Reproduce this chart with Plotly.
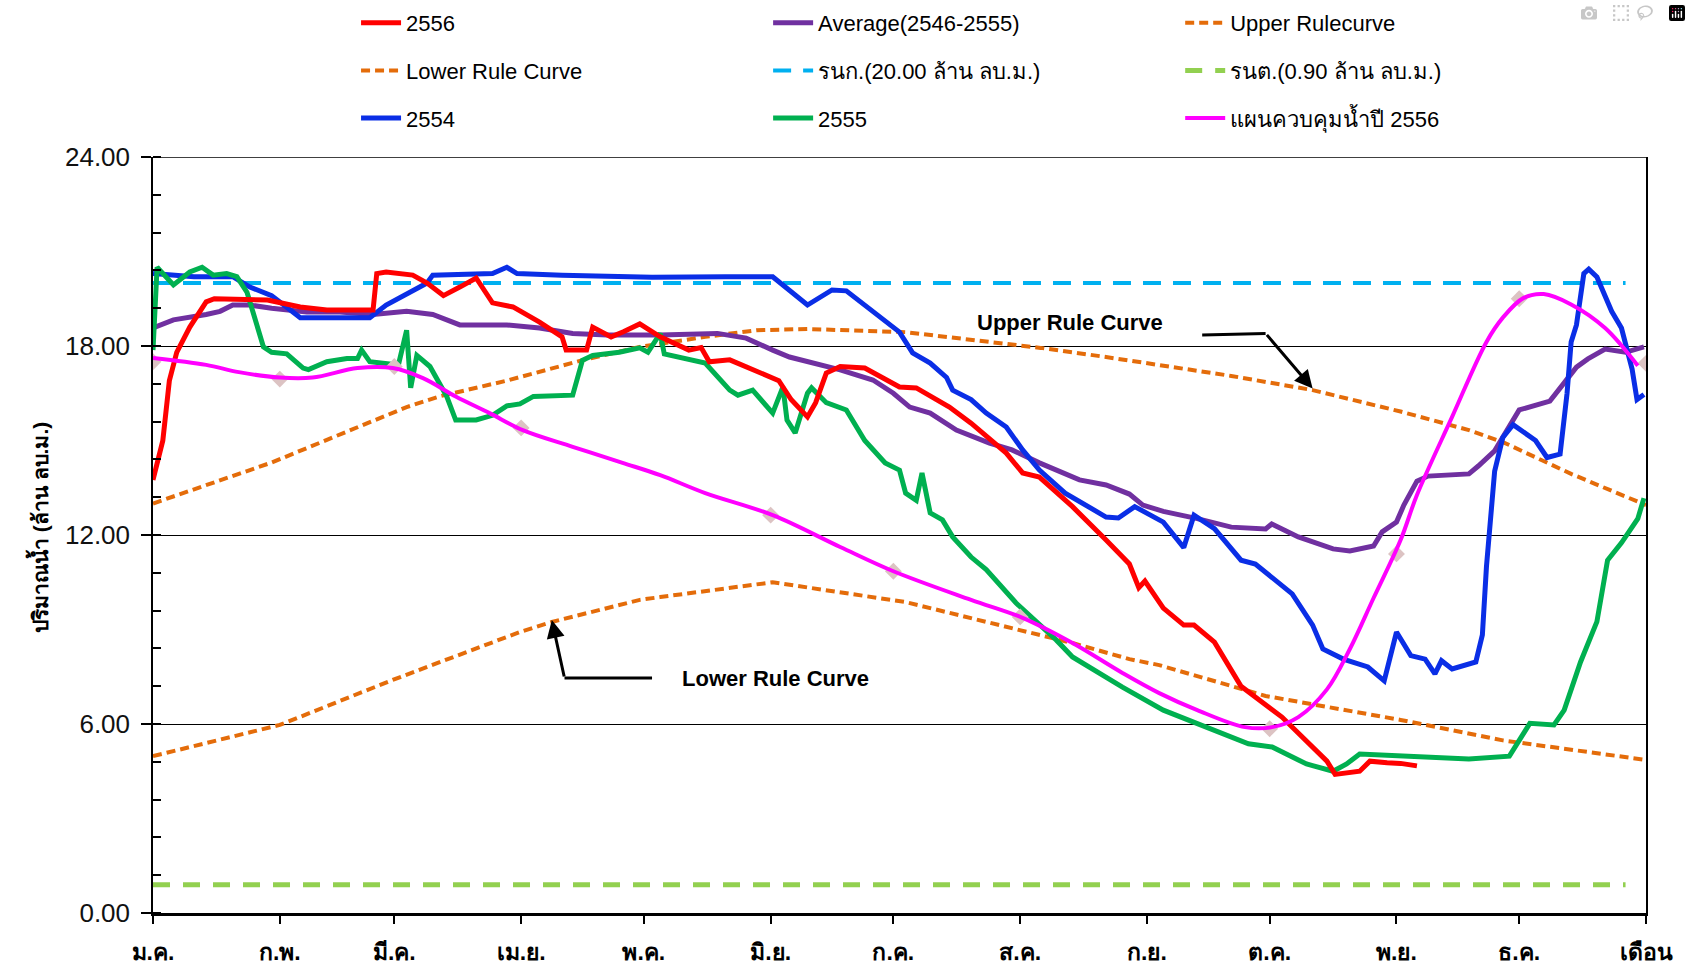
import plotly.graph_objects as go

# ---------------- data ----------------
month_days = [0, 31, 59, 90, 120, 151, 181, 212, 243, 273, 304, 334, 365]
month_labels = ["ม.ค.", "ก.พ.", "มี.ค.", "เม.ย.", "พ.ค.", "มิ.ย.", "ก.ค.", "ส.ค.",
                "ก.ย.", "ต.ค.", "พ.ย.", "ธ.ค.", "เดือน"]
y_ticks = [0, 6, 12, 18, 24]

upper_x = [0, 29, 62, 70, 86.5, 105, 119, 135, 147.5, 160, 184, 200, 217, 233, 246,
           263.6, 283.5, 305, 321.7, 330, 346.7, 365]
upper_y = [13.0, 14.3, 16.06, 16.4, 16.9, 17.55, 17.97, 18.29, 18.5, 18.54, 18.44, 18.19,
           17.94, 17.65, 17.4, 17.05, 16.6, 15.92, 15.33, 14.95, 13.94, 12.95]

lower_x = [0, 31, 58.6, 89.7, 97.5, 119, 124, 151.5, 184, 208.6, 224.8, 238.7, 246, 272,
           305, 330, 365]
lower_y = [4.98, 5.97, 7.4, 8.92, 9.24, 9.94, 10.03, 10.5, 9.87, 9.08, 8.57, 8.06, 7.87,
           6.89, 6.13, 5.48, 4.86]

nwl_x = [0, 360]
nwl_y = [20.0, 20.0]
lwl_x = [0, 360]
lwl_y = [0.9, 0.9]

avg_x = [0, 5, 13, 16.4, 19.5, 23.7, 29, 37.6, 45.7, 53.8, 62, 68.4, 75, 86.5, 94.5, 102.6,
         111, 124, 138, 145, 151.5, 155.6, 168, 176, 181, 185, 190, 196.4, 204.5, 210,
         216.7, 226.5, 233, 238.7, 242, 247, 255.3, 263.6, 272, 273.5, 280, 288.5, 292.6,
         298.4, 300.5, 304, 305.8, 309, 311.7, 321.7, 324, 328, 334, 336.6, 341.5, 345,
         348, 350.8, 355, 360, 364.5]
avg_y = [18.57, 18.83, 19.0, 19.1, 19.3, 19.3, 19.2, 19.08, 19.08, 19.0, 19.1, 19.0, 18.67,
         18.67, 18.57, 18.4, 18.35, 18.35, 18.4, 18.25, 17.87, 17.65, 17.24, 16.92, 16.5,
         16.06, 15.87, 15.33, 14.92, 14.7, 14.29, 13.75, 13.59, 13.3, 12.95, 12.75, 12.52,
         12.25, 12.19, 12.35, 11.94, 11.56, 11.49, 11.65, 12.1, 12.41, 12.95, 13.71, 13.87,
         13.94, 14.19, 14.67, 15.97, 16.08, 16.25, 16.83, 17.33, 17.59, 17.9, 17.8, 17.97]

y2554_x = [0, 10, 19.5, 23.7, 29, 32.7, 36, 45.7, 53, 57, 67, 68.4, 83, 86.5, 89, 100, 122,
           140, 151.5, 160, 166, 169.5, 176, 182.5, 185.7, 190, 194, 195.5, 200, 203.7,
           208.6, 212.6, 216.7, 223, 233, 236, 240, 244, 247, 252, 254.5, 259.5, 263.6, 266,
           269.5, 278.5, 283.5, 286, 291, 297, 301, 304, 307.5, 311, 313.4, 315, 317.6,
           323.4, 325, 326, 328, 330, 332.5, 338, 340.8, 344, 345.7, 346.7, 348, 349.8, 351,
           353, 356.6, 359, 361.6, 362.8, 364.5]
y2554_y = [20.3, 20.2, 20.2, 19.87, 19.6, 19.24, 18.9, 18.9, 18.9, 19.3, 20.0, 20.25, 20.3,
           20.5, 20.3, 20.25, 20.18, 20.2, 20.2, 19.3, 19.78, 19.75, 19.08, 18.44, 17.78,
           17.46, 17.0, 16.6, 16.3, 15.87, 15.43, 14.7, 14.06, 13.33, 12.57, 12.54, 12.9,
           12.6, 12.41, 11.6, 12.63, 12.2, 11.56, 11.2, 11.08, 10.13, 9.14, 8.38, 8.06, 7.81,
           7.37, 8.92, 8.17, 8.06, 7.59, 8.01, 7.75, 7.97, 8.83, 11.0, 14.03, 15.1, 15.5,
           15.0, 14.46, 14.57, 16.5, 18.13, 18.67, 20.3, 20.44, 20.19, 19.1, 18.57, 17.27,
           16.3, 16.46]

y2555_x = [0, 1, 5, 9, 12, 14.7, 18, 20.5, 23, 27, 29, 32.7, 36.7, 38, 42.5, 47.4, 50, 51,
           53, 60, 62, 63, 64.5, 67.7, 71.8, 74, 79, 83, 86.5, 89.7, 93, 102.6, 105, 107.5,
           114, 119, 121, 124, 125, 135, 141, 143, 146.6, 151.5, 154, 155, 157, 160, 161,
           164.6, 169.5, 174, 179, 182.5, 184, 186.6, 188, 190, 193, 195.5, 200, 203.7, 211,
           220.8, 224.8, 237, 247, 259.5, 267.8, 273.6, 282, 288.5, 291.8, 295, 305, 321.7,
           331.6, 336.6, 342.5, 345, 349, 353, 355.6, 359, 363, 364.5]
y2555_y = [17.87, 20.5, 19.94, 20.35, 20.5, 20.25, 20.3, 20.2, 19.7, 17.97, 17.8, 17.75,
           17.3, 17.25, 17.5, 17.6, 17.6, 17.87, 17.5, 17.4, 18.5, 16.67, 17.7, 17.35, 16.4,
           15.65, 15.65, 15.8, 16.1, 16.16, 16.4, 16.44, 17.55, 17.7, 17.8, 17.94, 17.8,
           18.4, 17.75, 17.46, 16.6, 16.44, 16.6, 15.87, 16.7, 15.65, 15.24, 16.5, 16.67,
           16.2, 15.97, 15.0, 14.29, 14.06, 13.33, 13.1, 13.97, 12.7, 12.48, 11.94, 11.3,
           10.9, 9.84, 8.67, 8.13, 7.17, 6.44, 5.8, 5.37, 5.27, 4.73, 4.5, 4.73, 5.05, 4.98,
           4.89, 4.98, 6.02, 5.97, 6.44, 7.97, 9.25, 11.2, 11.75, 12.52, 13.17]

y2556_x = [0, 2.4, 4, 5.8, 9, 13, 15, 28, 36, 42.5, 53.8, 54.7, 57, 63.5, 67, 71, 75, 79,
           83, 88, 94.5, 100, 101, 106, 107.5, 112, 115, 119, 124, 131, 134, 136, 141, 147.5,
           153, 156, 160, 162, 164.6, 168, 174, 182.5, 186.6, 194.7, 200, 208.6, 212.6,
           216.7, 224.8, 233, 238.7, 241, 242.5, 247, 252, 254.5, 259.5, 266, 276, 287, 289,
           295, 297.5, 301.7, 305, 309]
y2556_y = [13.75, 15.0, 16.9, 17.8, 18.6, 19.4, 19.5, 19.46, 19.24, 19.14, 19.14, 20.3,
           20.35, 20.25, 20.0, 19.6, 19.87, 20.16, 19.37, 19.24, 18.76, 18.29, 17.87, 17.87,
           18.6, 18.29, 18.45, 18.7, 18.29, 17.87, 17.95, 17.5, 17.56, 17.2, 16.9, 16.3,
           15.75, 16.2, 17.14, 17.35, 17.3, 16.7, 16.67, 16.06, 15.55, 14.6, 13.97, 13.84,
           12.9, 11.84, 11.08, 10.33, 10.54, 9.68, 9.14, 9.14, 8.6, 7.2, 6.22, 4.82, 4.4,
           4.5, 4.82, 4.77, 4.75, 4.67]

plan_x = [0, 13, 21, 31, 39, 50, 58.6, 66, 74, 82.3, 90.4, 102.6, 114.8, 124, 135, 151.5,
          168, 181, 200, 212.6, 224.8, 237, 246, 255.3, 267, 273.6, 280, 287, 292.6, 298.4,
          305, 309, 317.6, 326, 330, 335, 340, 346.7, 355, 363]
plan_y = [17.62, 17.4, 17.17, 17.0, 17.0, 17.3, 17.3, 16.98, 16.4, 15.87, 15.33, 14.8,
          14.29, 13.9, 13.33, 12.63, 11.62, 10.85, 9.94, 9.37, 8.57, 7.62, 6.98, 6.44, 5.9,
          5.9, 6.22, 7.1, 8.38, 10.0, 11.84, 13.27, 15.75, 18.13, 18.9, 19.52, 19.65,
          19.32, 18.57, 17.37]

plan_mark_x = [0, 31, 59, 90, 151, 181, 212, 273, 304, 334, 365]
plan_mark_y = [17.5, 16.95, 17.35, 15.4, 12.63, 10.85, 9.4, 5.85, 11.4, 19.5, 17.45]

# annotation arrows (data coordinates)
upper_lbl = (224.3, 18.76)
upper_arrow_x = [256.5, 272.0]
upper_arrow_y = [18.35, 18.4]
upper_head = (283.5, 16.65)
lower_lbl = (152.2, 7.46)
lower_arrow_x = [122.0, 100.6]
lower_arrow_y = [7.46, 7.46]
lower_head = (97.5, 9.3)

# ---------------- figure ----------------
FONT = "Liberation Sans, Arial, sans-serif"
ORANGE = "#e46c0a"

fig = go.Figure()

def add(x, y, name, color, width, dash=None, legend="legend", rank=1, shape="linear"):
    fig.add_trace(go.Scatter(
        x=x, y=y, mode="lines", name=name,
        line=dict(color=color, width=width, dash=dash, shape=shape),
        legend=legend, legendgroup=name, legendrank=rank))

add(upper_x, upper_y, "Upper Rulecurve", ORANGE, 4, "9px,5px", "legend3", 1)
add(lower_x, lower_y, "Lower Rule Curve", ORANGE, 4, "9px,5px", "legend", 2)
add(nwl_x, nwl_y, "รนก.(20.00 ล้าน ลบ.ม.)", "#00b0f0", 4, "18px,12px", "legend2", 2)
add(lwl_x, lwl_y, "รนต.(0.90 ล้าน ลบ.ม.)", "#92d050", 5, "17px,13px", "legend3", 2)
add(avg_x, avg_y, "Average(2546-2555)", "#7030a0", 5, None, "legend2", 1)
add(y2554_x, y2554_y, "2554", "#0a2ee6", 5, None, "legend", 3)
add(y2555_x, y2555_y, "2555", "#00b050", 5, None, "legend2", 3)
add(y2556_x, y2556_y, "2556", "#ff0000", 5, None, "legend", 1)

fig.add_trace(go.Scatter(
    x=plan_mark_x, y=plan_mark_y, mode="markers", showlegend=False, hoverinfo="skip",
    marker=dict(symbol="diamond", size=13, color="#dcc3c3", line=dict(width=0))))

add(plan_x, plan_y, "แผนควบคุมน้ำปี 2556", "#ff00ff", 4, None, "legend3", 3, "spline")

# arrow polylines
for ax_, ay_ in [(upper_arrow_x, upper_arrow_y), (lower_arrow_x, lower_arrow_y)]:
    fig.add_trace(go.Scatter(x=ax_, y=ay_, mode="lines", showlegend=False, hoverinfo="skip",
                             line=dict(color="black", width=3)))

annotations = [
    dict(x=upper_head[0], y=upper_head[1], ax=upper_arrow_x[-1], ay=upper_arrow_y[-1],
         xref="x", yref="y", axref="x", ayref="y", showarrow=True, arrowhead=2,
         arrowsize=1.2, arrowwidth=3, arrowcolor="black", text="", standoff=0),
    dict(x=lower_head[0], y=lower_head[1], ax=lower_arrow_x[-1], ay=lower_arrow_y[-1],
         xref="x", yref="y", axref="x", ayref="y", showarrow=True, arrowhead=2,
         arrowsize=1.2, arrowwidth=3, arrowcolor="black", text="", standoff=0),
    dict(x=upper_lbl[0], y=upper_lbl[1], xref="x", yref="y", showarrow=False,
         text="<b>Upper Rule Curve</b>", font=dict(family=FONT, size=22, color="black")),
    dict(x=lower_lbl[0], y=lower_lbl[1], xref="x", yref="y", showarrow=False,
         text="<b>Lower Rule Curve</b>", font=dict(family=FONT, size=22, color="black")),
    dict(x=-0.087, y=0.51, xref="paper", yref="paper", showarrow=False, textangle=-90,
         text="<b>ปริมาณน้ำ (ล้าน ลบ.ม.)</b>", font=dict(family=FONT, size=21, color="black")),
]

leg_common = dict(orientation="v", yanchor="top", xanchor="left", traceorder="grouped",
                  tracegroupgap=16, font=dict(family=FONT, size=22, color="black"),
                  bgcolor="rgba(0,0,0,0)", itemwidth=40)

fig.update_layout(
    width=1691, height=967,
    margin=dict(l=153, r=45, t=157, b=54, autoexpand=False),
    paper_bgcolor="white", plot_bgcolor="white",
    font=dict(family=FONT, color="black"),
    annotations=annotations,
    shapes=[dict(type="line", xref="paper", yref="y", x0=0, x1=1, y0=24, y1=24,
                 line=dict(color="black", width=1.5))],
    legend=dict(x=0.136, y=1.205, **leg_common),
    legend2=dict(x=0.412, y=1.205, **leg_common),
    legend3=dict(x=0.688, y=1.205, **leg_common),
    xaxis=dict(range=[0, 365], tickmode="array", tickvals=month_days,
               ticktext=["<b>%s</b>" % t for t in month_labels],
               tickfont=dict(family=FONT, size=23, color="black"),
               ticks="outside", ticklen=8, tickwidth=1.5, tickcolor="black",
               ticklabelstandoff=8,
               showline=True, linewidth=3, linecolor="black", showgrid=False,
               zeroline=False, fixedrange=True),
    yaxis=dict(range=[0, 24], tickmode="array", tickvals=y_ticks, tickformat=".2f",
               tickfont=dict(family=FONT, size=26, color="#111111"),
               ticks="outside", ticklen=10, tickwidth=1.5, tickcolor="black",
               ticklabelstandoff=6,
               showline=True, linewidth=1.5, linecolor="black", mirror=True,
               showgrid=True, gridcolor="black", gridwidth=1, zeroline=False,
               minor=dict(dtick=1.2, ticks="inside", ticklen=8, tickcolor="black",
                          tickwidth=1.5, showgrid=False),
               fixedrange=True),
)

fig.write_html("out.html", post_script="document.body.style.margin='0';")
